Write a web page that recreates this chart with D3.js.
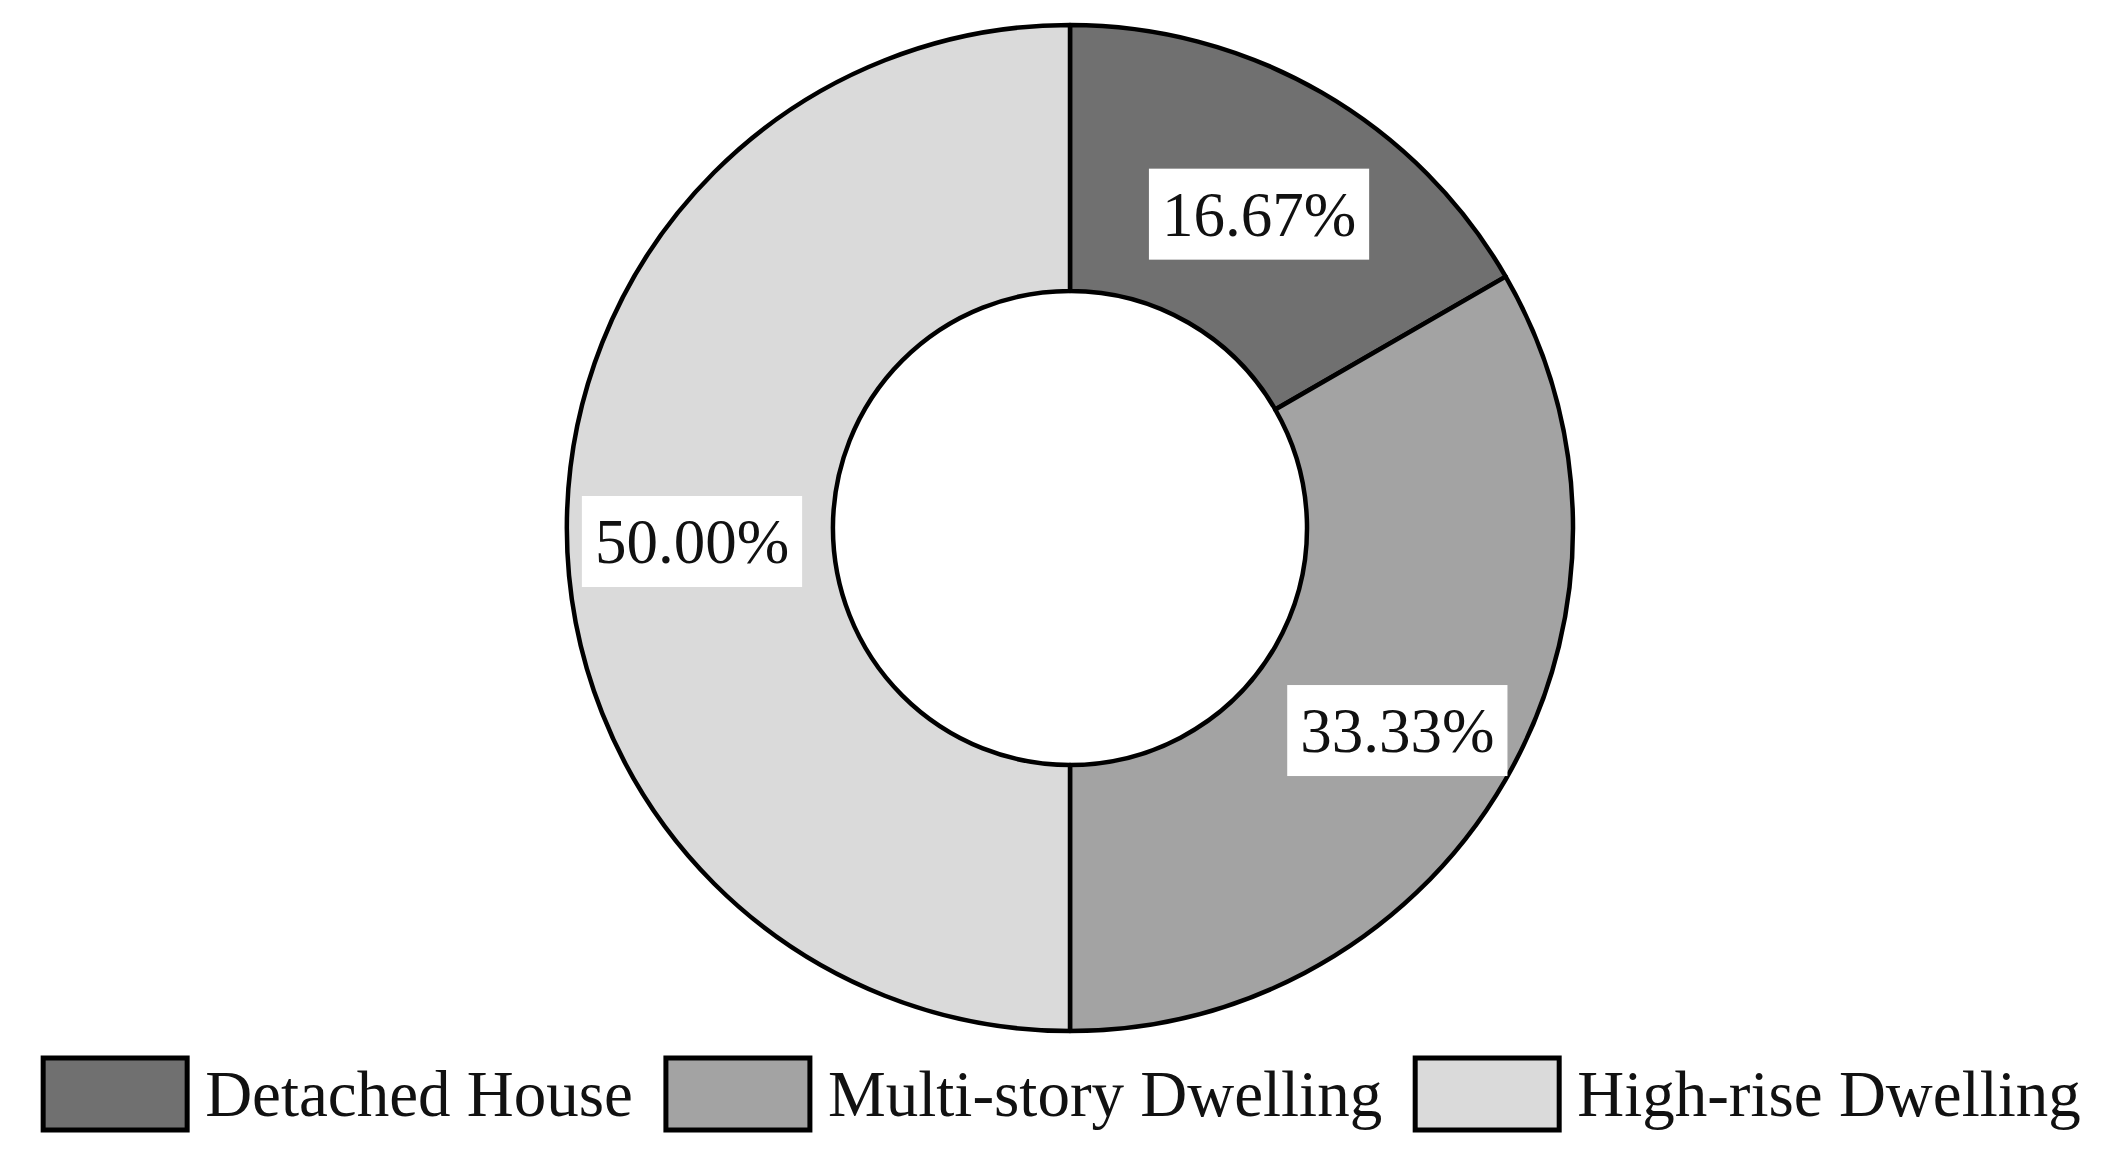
<!DOCTYPE html>
<html>
<head>
<meta charset="utf-8">
<script src="https://cdn.jsdelivr.net/npm/d3@7"></script>
<style>
  html, body { margin: 0; padding: 0; background: #fff; }
  svg { display: block; }
</style>
</head>
<body>
<div id="chart"></div>
<script>
// Data
var categories = ["Detached House", "Multi-story Dwelling", "High-rise Dwelling"];
var values = [16.67, 33.33, 50.00];
var labels = ["16.67%", "33.33%", "50.00%"];
var colors = ["#707070", "#a3a3a3", "#dadada"];

document.addEventListener('DOMContentLoaded', function() {
  var width = 2107, height = 1174;
  var cx = 1070, cy = 528,
      outerR = 503, innerR = 237;

  var svg = d3.select("#chart")
    .append("svg")
      .attr("width", width)
      .attr("height", height);

  var g = svg.append("g")
    .attr("transform", "translate(" + cx + "," + cy + ")");

  var pie = d3.pie().sort(null).value(function(d) { return d; });
  var arc = d3.arc().innerRadius(innerR).outerRadius(outerR);
  var labelArc = d3.arc().innerRadius(250).outerRadius(506);
  var arcs = pie(values);

  // Ring slices
  g.selectAll("path")
    .data(arcs)
    .enter()
    .append("path")
      .attr("d", arc)
      .attr("fill", function(d, i) { return colors[i]; })
      .attr("stroke", "#000")
      .attr("stroke-width", 4.5)
      .attr("stroke-linejoin", "round");

  // Value labels on white boxes
  var labelG = g.selectAll("g.lbl")
    .data(arcs)
    .enter()
    .append("g")
      .attr("class", "lbl")
      .attr("transform", function(d) {
        var c = labelArc.centroid(d);
        return "translate(" + c[0] + "," + (c[1] + 14) + ")";
      });

  labelG.append("rect").attr("fill", "#fff");
  labelG.append("text")
    .attr("text-anchor", "middle")
    .attr("dominant-baseline", "central")
    .attr("font-family", "'Liberation Serif', 'Times New Roman', serif")
    .attr("font-size", 63)
    .attr("fill", "#111")
    .text(function(d, i) { return labels[i]; });

  labelG.each(function() {
    var t = d3.select(this).select("text");
    var w = t.node().getComputedTextLength();
    d3.select(this).select("rect")
      .attr("x", -w / 2 - 13)
      .attr("y", -46)
      .attr("width", w + 26)
      .attr("height", 91);
  });

  // Legend
  var legend = svg.append("g");
  var boxW = 144, boxH = 72, gapBoxText = 18, gapItem = 33;
  var items = legend.selectAll("g")
    .data(categories)
    .enter()
    .append("g");

  items.append("rect")
    .attr("width", boxW)
    .attr("height", boxH)
    .attr("fill", function(d, i) { return colors[i]; })
    .attr("stroke", "#000")
    .attr("stroke-width", 5);

  items.append("text")
    .attr("x", boxW + gapBoxText)
    .attr("y", boxH / 2)
    .attr("dominant-baseline", "central")
    .attr("font-family", "'Liberation Serif', 'Times New Roman', serif")
    .attr("font-size", 65)
    .attr("fill", "#111")
    .text(function(d) { return d; });

  var xPos = 0;
  items.each(function() {
    var w = d3.select(this).select("text").node().getComputedTextLength();
    d3.select(this).attr("transform", "translate(" + xPos + ",0)");
    xPos += boxW + gapBoxText + w + gapItem;
  });
  var total = xPos - gapItem;
  legend.attr("transform", "translate(" + (1062 - total / 2) + ",1058)");
});
</script>
</body>
</html>
